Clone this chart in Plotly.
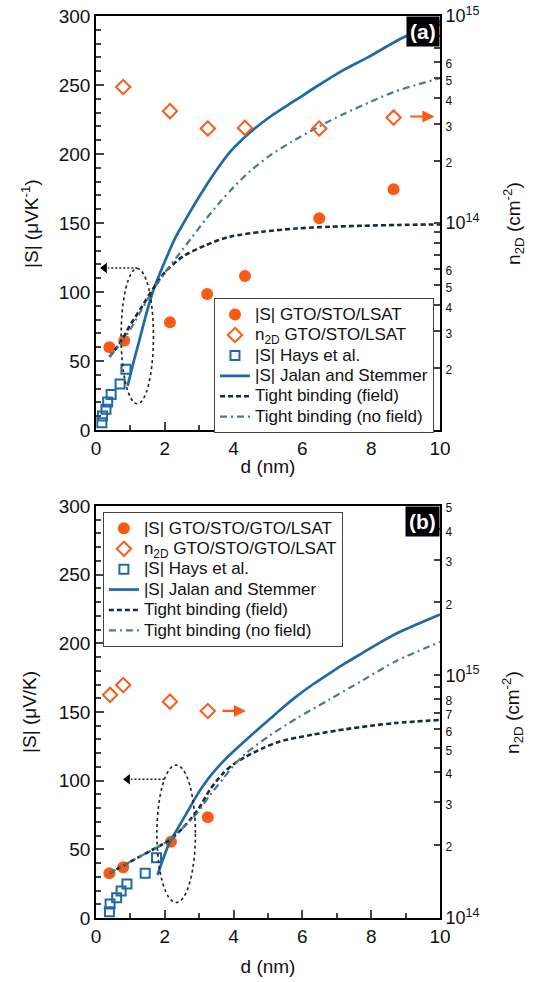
import math
import plotly.graph_objects as go

# ---------------- Panel (a) data ----------------
a_gto_d = [0.39, 0.82, 2.15, 3.23, 4.33, 6.49, 8.65]
a_gto_S = [60, 64.7, 78, 98.6, 111.6, 153.4, 174.4]
a_n2d_d = [0.79, 2.15, 3.25, 4.33, 6.49, 8.65]
a_n2d = [4.54e14, 3.47e14, 2.86e14, 2.88e14, 2.86e14, 3.23e14]
a_hays_d = [0.17, 0.19, 0.29, 0.34, 0.44, 0.70, 0.87]
a_hays_S = [5.3, 10.1, 15, 20.3, 25.8, 33.3, 44]
a_jalan_d = [0.92, 1.1, 1.26, 1.45, 1.65, 1.85, 2.05, 2.3, 2.57, 2.9, 3.2, 3.55, 3.88,
             4.45, 5.06, 5.8, 6.48, 7.2, 7.9, 8.9, 10]
a_jalan_S = [32, 50, 65, 83, 100, 113, 125, 139, 151, 165, 177, 190, 201,
             215, 227, 239, 250, 261, 270, 284, 296]
a_field_d = [0.39, 0.7, 0.97, 1.3, 1.65, 2.03, 2.52, 3.2, 3.88, 4.84, 5.81, 6.8, 7.75, 8.8, 10]
a_field_S = [53, 63, 75, 88, 102, 115, 125.6, 134, 140, 143.7, 146, 147.3, 148, 148.6, 149]
a_nofield_d = [0.39, 0.7, 1.0, 1.3, 1.65, 2.0, 2.4, 2.8, 3.2, 3.6, 4.0, 4.5, 5.06,
               5.7, 6.49, 7.2, 8.0, 8.66, 9.3, 10]
a_nofield_S = [53, 62, 73, 86, 101, 114, 127, 140, 153, 165, 176, 188, 199,
               209, 220, 229, 238, 245, 250, 255]
a_ellipse = dict(cx=1.2, cy=68, rx=0.47, ry=49)
a_dot_arrow = dict(x_tail=1.2, x_head=0.25, S=117.4)
a_orange_arrow = dict(x_tail=9.09, x_head=9.84, n=3.27e14)

# ---------------- Panel (b) data ----------------
b_gto_d = [0.39, 0.79, 2.18, 3.25]
b_gto_S = [32.5, 36.9, 55.6, 73.3]
b_n2d_d = [0.41, 0.79, 2.15, 3.25]
b_n2d = [8.32e14, 9.14e14, 7.8e14, 7.14e14]
b_hays_d = [0.39, 0.41, 0.6, 0.73, 0.9, 1.43, 1.76]
b_hays_S = [4.6, 10.2, 14.8, 19.7, 24.8, 32.5, 43.9]
b_jalan_d = [1.79, 1.95, 2.13, 2.3, 2.52, 2.72, 2.91, 3.15, 3.39, 3.7, 4.07, 4.4, 4.8,
             5.06, 5.4, 5.81, 6.3, 6.78, 7.25, 7.75, 8.25, 8.72, 9.35, 10]
b_jalan_S = [31.3, 43, 54.4, 62, 71.4, 80, 88.4, 97.5, 105.4, 114, 123, 130.5, 139.5,
             145, 152.5, 161, 170, 178, 185.5, 193, 200.5, 207, 214, 221]
b_field_d = [0.39, 1.0, 1.74, 2.15, 2.5, 2.78, 3.02, 3.3, 3.68, 4.0, 4.36, 4.84, 5.33,
             6.3, 7.27, 8.0, 8.72, 10]
b_field_S = [32.5, 41, 51, 57, 65, 73, 81, 93, 105, 112, 117.5, 123.5, 128.4,
             133.5, 137.5, 140, 142, 144.2]
b_nofield_d = [0.39, 1.0, 1.74, 2.15, 2.5, 2.78, 3.02, 3.3, 3.68, 4.0, 4.36, 5.06, 5.81,
               6.78, 7.75, 8.72, 10]
b_nofield_S = [32.5, 41, 51, 57, 65, 72, 79, 89, 101, 111, 120, 133, 145,
               159, 173, 187, 201]
b_ellipse = dict(cx=2.33, cy=61.3, rx=0.56, ry=50)
b_dot_arrow = dict(x_tail=1.99, x_head=0.92, S=101)
b_orange_arrow = dict(x_tail=3.63, x_head=4.36, n=7.14e14)

# right-axis tick labels
a_rt_vals = [2e13, 3e13, 4e13, 5e13, 6e13, 7e13, 8e13, 9e13, 1e14,
             2e14, 3e14, 4e14, 5e14, 6e14, 7e14, 8e14, 9e14, 1e15]
a_rt_text = ["2", "3", "4", "5", "6", "", "", "", "10<sup>14</sup>",
             "2", "3", "4", "5", "6", "", "", "", "10<sup>15</sup>"]
b_rt_vals = [1e14, 2e14, 3e14, 4e14, 5e14, 6e14, 7e14, 8e14, 9e14, 1e15,
             2e15, 3e15, 4e15, 5e15]
b_rt_text = ["10<sup>14</sup>", "2", "3", "4", "5", "6", "7", "8", "", "10<sup>15</sup>",
             "2", "3", "4", "5"]

# axis titles
a_left_title = "|S| (μVK<sup>-1</sup>)"
b_left_title = "|S| (μV/K)"
right_title = "n<sub>2D</sub> (cm<sup>-2</sup>)"
x_title = "d (nm)"

ORANGE = "#FA5A16"
BLUE = "#1F6AA5"
NAVY = "#1A2A40"
TEAL = "#4D7B85"
FONT = "Arial, Liberation Sans, sans-serif"
LEG_TXT = 17


def small(lbl):
    if lbl == "" or "sup" in lbl:
        return lbl
    return "<span style='font-size:12px'>%s</span>" % lbl


def big(name):
    return "<span style='font-size:%dpx'>%s</span>" % (LEG_TXT, name)


fig = go.Figure()


def add_panel(xa, ya, ya2, leg, gd, gS, nd, nv, hd, hS, jd, jS, fd, fS, nfd, nfS, label):
    fig.add_trace(go.Scatter(x=gd, y=gS, mode="markers", xaxis=xa, yaxis=ya, legend=leg,
                             name=big("|S| " + label),
                             marker=dict(symbol="circle", size=12, color=ORANGE)))
    fig.add_trace(go.Scatter(x=nd, y=nv, mode="markers", xaxis=xa, yaxis=ya2, legend=leg,
                             name=big("n<sub>2D</sub> " + label),
                             marker=dict(symbol="diamond-open", size=11, color=ORANGE,
                                         line=dict(width=2, color=ORANGE))))
    fig.add_trace(go.Scatter(x=hd, y=hS, mode="markers", xaxis=xa, yaxis=ya, legend=leg,
                             name=big("|S| Hays et al."),
                             marker=dict(symbol="square-open", size=9, color=BLUE,
                                         line=dict(width=2, color=BLUE))))
    fig.add_trace(go.Scatter(x=jd, y=jS, mode="lines", xaxis=xa, yaxis=ya, legend=leg,
                             name=big("|S| Jalan and Stemmer"),
                             line=dict(color=BLUE, width=2.7, shape="spline", smoothing=0.8)))
    fig.add_trace(go.Scatter(x=fd, y=fS, mode="lines", xaxis=xa, yaxis=ya, legend=leg,
                             name=big("Tight binding (field)"),
                             line=dict(color=NAVY, width=2.6, dash="5px,3px",
                                       shape="spline", smoothing=0.8)))
    fig.add_trace(go.Scatter(x=nfd, y=nfS, mode="lines", xaxis=xa, yaxis=ya, legend=leg,
                             name=big("Tight binding (no field)"),
                             line=dict(color=TEAL, width=2.2, dash="7px,4px,2px,4px",
                                       shape="spline", smoothing=0.8)))


add_panel("x", "y", "y2", "legend", a_gto_d, a_gto_S, a_n2d_d, a_n2d, a_hays_d, a_hays_S,
          a_jalan_d, a_jalan_S, a_field_d, a_field_S, a_nofield_d, a_nofield_S,
          "GTO/STO/LSAT")
add_panel("x2", "y3", "y4", "legend2", b_gto_d, b_gto_S, b_n2d_d, b_n2d, b_hays_d, b_hays_S,
          b_jalan_d, b_jalan_S, b_field_d, b_field_S, b_nofield_d, b_nofield_S,
          "GTO/STO/GTO/LSAT")

# dotted arrows (left-pointing) from the ellipses
for xa, ya, arr in [("x", "y", a_dot_arrow), ("x2", "y3", b_dot_arrow)]:
    fig.add_trace(go.Scatter(x=[arr["x_tail"], arr["x_head"] + 0.1], y=[arr["S"], arr["S"]],
                             mode="lines", xaxis=xa, yaxis=ya, showlegend=False,
                             line=dict(color="#222", width=1.6, dash="2px,2px")))
    fig.add_trace(go.Scatter(x=[arr["x_head"]], y=[arr["S"]], mode="markers",
                             xaxis=xa, yaxis=ya, showlegend=False,
                             marker=dict(symbol="triangle-left", size=9, color="black")))

shapes = []
for xr, yr, e in [("x", "y", a_ellipse), ("x2", "y3", b_ellipse)]:
    shapes.append(dict(type="circle", xref=xr, yref=yr,
                       x0=e["cx"] - e["rx"], x1=e["cx"] + e["rx"],
                       y0=e["cy"] - e["ry"], y1=e["cy"] + e["ry"],
                       line=dict(color="#222", width=1.6, dash="dot")))

TXT = dict(size=19, family=FONT, color="#111")

annotations = []
for xr, yr, arr in [("x", "y2", a_orange_arrow), ("x2", "y4", b_orange_arrow)]:
    ly = math.log10(arr["n"])
    annotations.append(dict(x=arr["x_head"], y=ly, ax=arr["x_tail"], ay=ly,
                            xref=xr, yref=yr, axref=xr, ayref=yr, text="",
                            showarrow=True, arrowhead=2, arrowsize=1.1, arrowwidth=2.2,
                            arrowcolor=ORANGE))
for xr, yr, lbl in [("x domain", "y domain", "(a)"), ("x2 domain", "y3 domain", "(b)")]:
    annotations.append(dict(x=1, y=1, xref=xr, yref=yr, xanchor="right", yanchor="top",
                            text="<b>%s</b>" % lbl, showarrow=False, bgcolor="black",
                            borderpad=3, font=dict(color="white", size=21, family=FONT)))
# y-axis titles placed beside each panel
for xr, yr, ltxt in [("x domain", "y domain", a_left_title),
                     ("x2 domain", "y3 domain", b_left_title)]:
    annotations.append(dict(x=-0.192, y=0.5, xref=xr, yref=yr, xanchor="center",
                            yanchor="middle", textangle=-90, text=ltxt, showarrow=False,
                            font=TXT))
    annotations.append(dict(x=1.212, y=0.5, xref=xr, yref=yr, xanchor="center",
                            yanchor="middle", textangle=-90, text=right_title,
                            showarrow=False, font=TXT))


def xaxis_cfg(anchor, standoff):
    return dict(range=[0, 10], dtick=2, ticks="inside", ticklen=8, tickwidth=1.5,
                minor=dict(dtick=1, ticks="inside", ticklen=5, tickwidth=1.5),
                showline=True, mirror=True, linewidth=1.6, linecolor="black",
                showgrid=False, zeroline=False, automargin=False, tickfont=TXT,
                anchor=anchor, domain=[0, 1],
                title=dict(text=x_title, font=TXT, standoff=standoff))


ycommon = dict(range=[0, 300], dtick=50, ticks="inside", ticklen=8, tickwidth=1.5,
               minor=dict(dtick=10, ticks="inside", ticklen=5, tickwidth=1.5),
               showline=True, linewidth=1.6, linecolor="black", showgrid=False,
               zeroline=False, automargin=False, tickfont=TXT)
rcommon = dict(type="log", side="right", ticks="inside", ticklen=6, tickwidth=1.5,
               tickmode="array", showline=True, linewidth=1.6, linecolor="black",
               showgrid=False, zeroline=False, automargin=False,
               tickfont=dict(size=18, family=FONT, color="#111"))

DOM_A = [0.541, 1.0]
DOM_B = [0.0, 0.4568]
LEG_FONT = dict(size=13.4, family=FONT, color="#111")

fig.update_layout(
    width=537, height=982, margin=dict(l=96, r=97, t=16, b=64),
    paper_bgcolor="white", plot_bgcolor="white",
    font=dict(family=FONT, color="#111"),
    xaxis=xaxis_cfg("y", 2),
    xaxis2=xaxis_cfg("y3", 14),
    yaxis=dict(**ycommon, anchor="x", domain=DOM_A),
    yaxis3=dict(**ycommon, anchor="x2", domain=DOM_B),
    yaxis2=dict(**rcommon, overlaying="y", anchor="x", range=[13, 15],
                tickvals=a_rt_vals, ticktext=[small(t) for t in a_rt_text]),
    yaxis4=dict(**rcommon, overlaying="y3", anchor="x2", range=[14, math.log10(5e15)],
                tickvals=b_rt_vals, ticktext=[small(t) for t in b_rt_text]),
    legend=dict(x=0.343, y=0.687, xanchor="left", yanchor="top", bgcolor="white",
                bordercolor="#444", borderwidth=1, font=LEG_FONT, tracegroupgap=0),
    legend2=dict(x=0.02, y=0.450, xanchor="left", yanchor="top", bgcolor="white",
                 bordercolor="#444", borderwidth=1, font=LEG_FONT, tracegroupgap=0),
    shapes=shapes, annotations=annotations,
)

fig.write_html("out.html", config={"displayModeBar": False},
               post_script="document.body.style.margin='0px';")
